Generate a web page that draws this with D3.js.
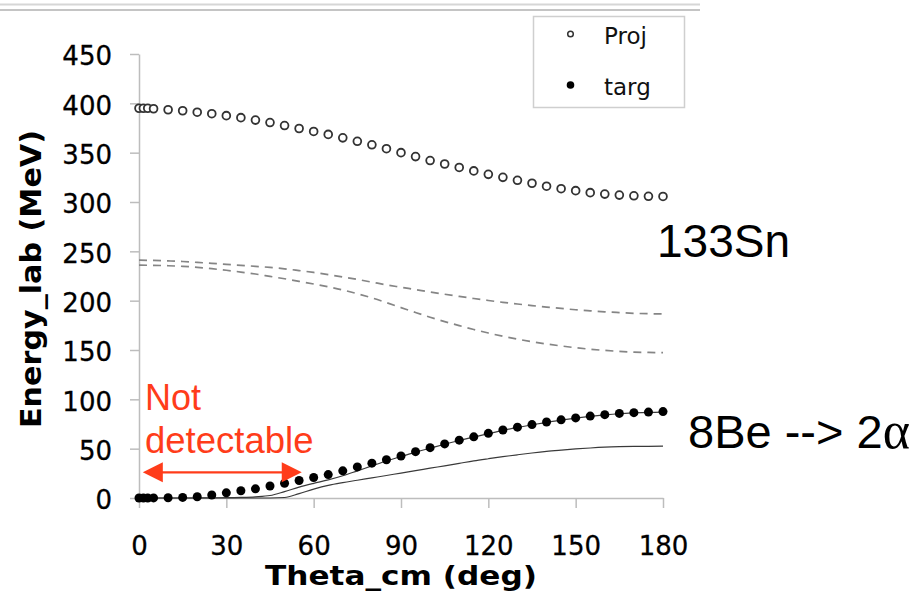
<!DOCTYPE html>
<html>
<head>
<meta charset="utf-8">
<script src="https://cdn.jsdelivr.net/npm/d3@7"></script>
<style>
  html, body { margin: 0; padding: 0; background: #fff; }
  svg { display: block; }
</style>
</head>
<body>
<svg id="chart" width="920" height="594"></svg>
<script>
// Kinematics of 133Sn + 8Be: lab energy versus CM angle
const thetaPts = [0, 1.5, 3, 5, 10, 15, 20, 25, 30, 35, 40, 45, 50, 55, 60, 65, 70, 75, 80, 85,
  90, 95, 100, 105, 110, 115, 120, 125, 130, 135, 140, 145, 150, 155, 160, 165, 170, 175, 180];
const projE = [395, 395, 395, 394.5, 393.5, 392.5, 391, 389.5, 387.5, 385.5, 383, 380.5, 377.5,
  374.5, 371.5, 368.5, 365, 361.5, 358, 354, 350, 346, 342, 338.5, 335, 331.5, 328, 325, 322,
  319, 316, 313.5, 311.5, 309.5, 308, 307, 306.3, 305.8, 305.6];
const targE = [0, 0, 0, 0.1, 0.3, 0.6, 1.3, 3, 5.2, 7.3, 9.3, 12.2, 14.9, 17.7, 20.8, 23.7, 27.5,
  31.5, 35.3, 38.8, 42.6, 47, 51, 54.8, 58.6, 62, 65.5, 68.9, 71.8, 74.4, 77, 79.2, 81.2, 83,
  84.5, 85.7, 86.5, 87.1, 87.6];

const lineTheta = [0, 5, 10, 15, 20, 25, 30, 35, 40, 45, 50, 55, 60, 65, 70, 75, 80, 85, 90, 95,
  100, 105, 110, 115, 120, 125, 130, 135, 140, 145, 150, 155, 160, 165, 170, 175, 180];
const projUpper = [241, 240.8, 240.3, 239.7, 238.8, 237.8, 236.8, 235.8, 234.8, 233.7, 232.3,
  230.5, 228.6, 226.4, 224, 221.5, 218.8, 216, 213.6, 211.2, 208.8, 206.5, 204.3, 202.2, 200.2,
  198.3, 196.6, 195, 193.5, 192.1, 190.8, 189.7, 188.7, 187.9, 187.2, 186.8, 186.6];
const projLower = [236, 235.8, 235.4, 234.8, 233.8, 232.4, 230.8, 229, 227, 224.6, 222.2, 219.6,
  216.9, 214, 210.8, 207, 202.8, 198, 193, 188, 183.2, 178.8, 174.7, 170.8, 167.2, 163.9, 161,
  158.4, 156.1, 154.1, 152.3, 150.8, 149.6, 148.6, 147.9, 147.5, 147.3];
const alphaUpper = [0, 0, 0, 0, 0.1, 0.2, 0.3, 0.6, 1.2, 2.5, 6.5, 11, 14.8, 18.3, 22.5, 27.5,
  32.5, 37.5, 42, 46.5, 50.5, 54.5, 58.3, 61.7, 65.2, 68.6, 71.5, 74.1, 76.7, 78.9, 80.9, 82.7,
  84.2, 85.4, 86.2, 86.8, 87.1];
const alphaLower = [0, 0, 0, 0, 0, 0, 0, 0, 0, 0, 0.5, 4.5, 9, 12.8, 15.6, 18, 20.4, 22.8, 25.3,
  27.7, 30.2, 32.6, 35.1, 37.6, 39.8, 41.9, 43.8, 45.6, 47.2, 48.5, 49.7, 50.7, 51.5, 52, 52.3,
  52.4, 52.5];

const xTicks = [0, 30, 60, 90, 120, 150, 180];
const yTicks = [0, 50, 100, 150, 200, 250, 300, 350, 400, 450];
const legendItems = ["Proj", "targ"];

const svg = d3.select("#chart");
const axisColor = "#bdbdbd";
const red = "#ff3c1a";

// header rule
svg.append("line").attr("x1", 0).attr("x2", 700).attr("y1", 4.5).attr("y2", 4.5)
  .attr("stroke", "#d6d6d6").attr("stroke-width", 2);
svg.append("line").attr("x1", 0).attr("x2", 700).attr("y1", 10).attr("y2", 10)
  .attr("stroke", "#c4c4c4").attr("stroke-width", 2);

const x = d3.scaleLinear().domain([0, 180]).range([139, 663]);
const y = d3.scaleLinear().domain([0, 450]).range([498, 54]);

// axes
const yAxis = svg.append("g").attr("transform", `translate(${x(0)},0)`)
  .call(d3.axisLeft(y).tickValues(yTicks).tickSize(9).tickSizeOuter(0).tickPadding(18));
const xAxis = svg.append("g").attr("transform", `translate(0,${y(0)})`)
  .call(d3.axisBottom(x).tickValues(xTicks).tickSize(10).tickSizeOuter(0).tickPadding(29));
[yAxis, xAxis].forEach(g => {
  g.select(".domain").attr("stroke", axisColor).attr("stroke-width", 1.5);
  g.selectAll(".tick line").attr("stroke", axisColor).attr("stroke-width", 1.5);
  g.selectAll(".tick text").attr("fill", "#000")
    .attr("stroke", "#000").attr("stroke-width", 0.3)
    .style("font-family", "'DejaVu Sans', Verdana, sans-serif").style("font-size", "26px");
});
yAxis.selectAll(".tick text").attr("dy", "0.42em");

// axis titles
svg.append("text")
  .attr("transform", `translate(41,${279}) rotate(-90)`)
  .attr("text-anchor", "middle")
  .attr("textLength", 298).attr("lengthAdjust", "spacingAndGlyphs")
  .style("font-family", "'DejaVu Sans', Verdana, sans-serif")
  .style("font-weight", "bold").style("font-size", "28px")
  .text("Energy_lab (MeV)");
svg.append("text")
  .attr("x", (x(0) + x(180)) / 2).attr("y", 585)
  .attr("text-anchor", "middle")
  .attr("textLength", 272).attr("lengthAdjust", "spacingAndGlyphs")
  .style("font-family", "'DejaVu Sans', Verdana, sans-serif")
  .style("font-weight", "bold").style("font-size", "27px")
  .text("Theta_cm (deg)");

// curves
const line = d3.line().x((d, i) => x(lineTheta[i])).y(d => y(d)).curve(d3.curveMonotoneX);
[projUpper, projLower].forEach(arr => {
  svg.append("path").attr("d", line(arr)).attr("fill", "none")
    .attr("stroke", "#858585").attr("stroke-width", 1.7).attr("stroke-dasharray", "8 6");
});
[alphaUpper, alphaLower].forEach(arr => {
  svg.append("path").attr("d", line(arr)).attr("fill", "none")
    .attr("stroke", "#3a3a3a").attr("stroke-width", 1.2);
});

// markers
svg.append("g").selectAll("circle").data(projE).join("circle")
  .attr("cx", (d, i) => x(thetaPts[i])).attr("cy", d => y(d)).attr("r", 3.9)
  .attr("fill", "#fff").attr("stroke", "#333").attr("stroke-width", 1.8);
svg.append("g").selectAll("circle").data(targE).join("circle")
  .attr("cx", (d, i) => x(thetaPts[i])).attr("cy", d => y(d)).attr("r", 4.5)
  .attr("fill", "#000");

// legend
const lg = svg.append("g");
lg.append("rect").attr("x", 533.5).attr("y", 16.5).attr("width", 151).attr("height", 91)
  .attr("fill", "#fff").attr("stroke", "#cfcfcf").attr("stroke-width", 1.5);
legendItems.forEach((name, i) => {
  const cy = i === 0 ? 34 : 85;
  if (i === 0) {
    lg.append("circle").attr("cx", 570.5).attr("cy", cy).attr("r", 2.8)
      .attr("fill", "#fff").attr("stroke", "#333").attr("stroke-width", 1.5);
  } else {
    lg.append("circle").attr("cx", 570.5).attr("cy", cy).attr("r", 3.8).attr("fill", "#000");
  }
  lg.append("text").attr("x", 604).attr("y", cy + 10)
    .style("font-family", "'DejaVu Sans', Verdana, sans-serif").style("font-size", "23px")
    .attr("fill", "#111").text(name);
});

// series labels
svg.append("text").attr("x", 657).attr("y", 257)
  .style("font-family", "'Liberation Sans', Arial, sans-serif").style("font-size", "46px")
  .attr("fill", "#000").text("133Sn");
const be = svg.append("text").attr("x", 688).attr("y", 448)
  .style("font-family", "'Liberation Sans', Arial, sans-serif").style("font-size", "47px")
  .attr("fill", "#000");
be.append("tspan").text("8Be --> 2");
be.append("tspan").style("font-family", "'Liberation Serif', 'Times New Roman', serif")
  .style("font-size", "52px").text("α");

// detection threshold note
const noteFont = "'Liberation Sans', Arial, sans-serif";
svg.append("text").attr("x", 145).attr("y", 410).attr("fill", red)
  .style("font-family", noteFont).style("font-size", "36px").text("Not");
svg.append("text").attr("x", 145).attr("y", 453).attr("fill", red)
  .style("font-family", noteFont).style("font-size", "36.5px").text("detectable");

const arrowFrom = 1.3, arrowTo = 55.9, arrowE = 26;
const ax0 = x(arrowFrom), ax1 = x(arrowTo), ay = y(arrowE);
const headL = 20, headH = 10;
svg.append("line").attr("x1", ax0 + headL - 2).attr("x2", ax1 - headL + 2)
  .attr("y1", ay).attr("y2", ay).attr("stroke", red).attr("stroke-width", 2.2);
svg.append("path")
  .attr("d", `M${ax0},${ay}L${ax0 + headL},${ay - headH}L${ax0 + headL},${ay + headH}Z`)
  .attr("fill", red);
svg.append("path")
  .attr("d", `M${ax1},${ay}L${ax1 - headL},${ay - headH}L${ax1 - headL},${ay + headH}Z`)
  .attr("fill", red);
</script>
</body>
</html>
